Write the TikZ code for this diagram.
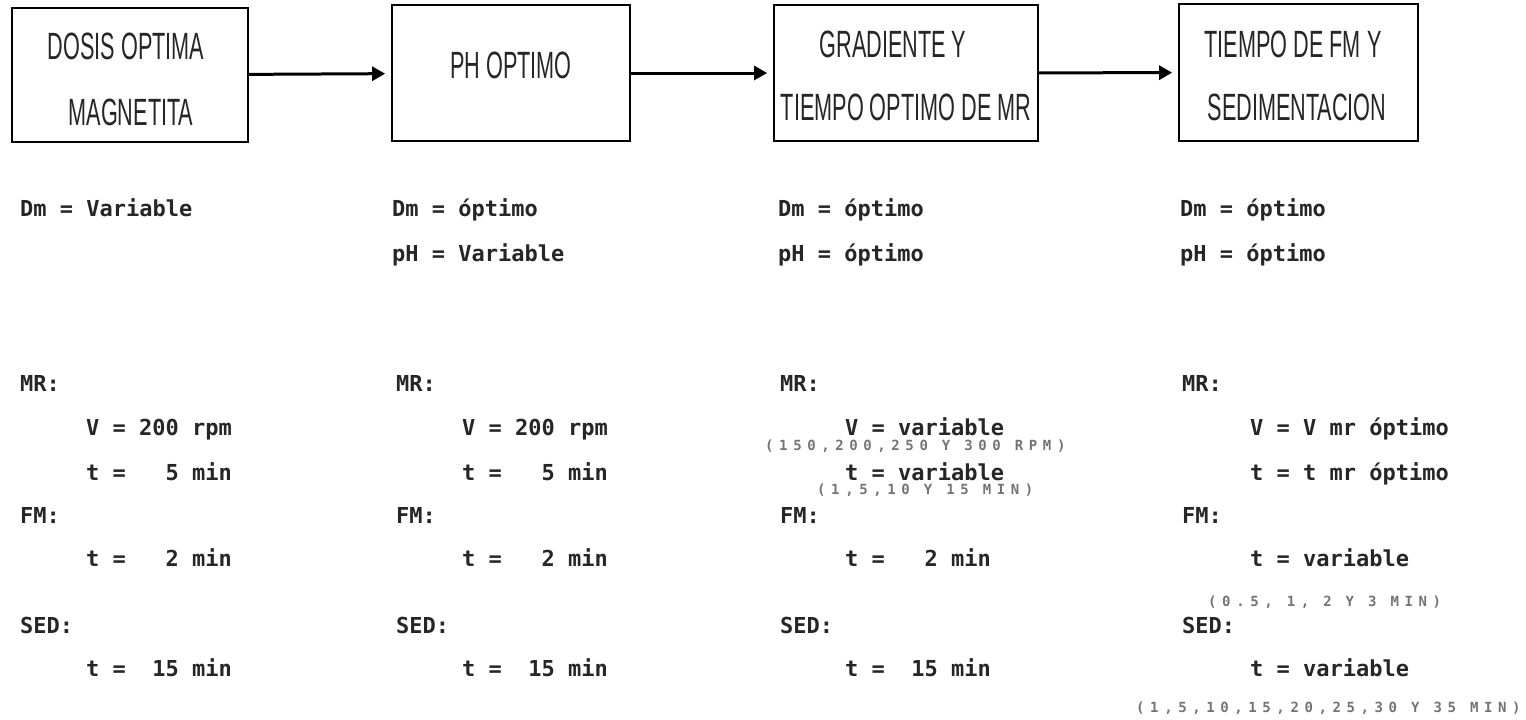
\documentclass[tikz,border=0pt]{standalone}
\usepackage{fontspec}
\usetikzlibrary{arrows.meta}
\newfontfamily\boxfont[FakeStretch=0.57]{Liberation Sans}
\newfontfamily\parfont{DejaVu Sans Mono}
\newfontfamily\notefont[LetterSpace=40]{DejaVu Sans Mono}
\begin{document}
\begin{tikzpicture}[x=1pt,y=-1pt,
  stagebox/.style={draw=black,line width=1.8pt,rectangle,inner sep=0pt},
  stagetext/.style={inner sep=0pt,text=black!85,
    font=\boxfont\fontsize{38}{38}\selectfont},
  flow/.style={line width=3pt,-{Triangle[length=13pt,width=14pt]},shorten >=6pt},
  param/.style={anchor=base west,inner sep=0pt,text=black!85,
    font=\parfont\bfseries\fontsize{22}{22}\selectfont},
  note/.style={anchor=base west,inner sep=0pt,text=black!55,
    font=\notefont\bfseries\fontsize{14}{14}\selectfont}]
\useasboundingbox (0,0) rectangle (1526,720);

% process stages
\node[stagebox,minimum width=236pt,minimum height=134pt] (s1) at (130,75) {};
\node[stagebox,minimum width=238pt,minimum height=136pt] (s2) at (511,73) {};
\node[stagebox,minimum width=264pt,minimum height=136pt] (s3) at (906,73) {};
\node[stagebox,minimum width=239pt,minimum height=137pt] (s4) at (1298.5,72.5) {};

% stage titles (cap height 27pt: base = centre + 13.5)
\node[stagetext,anchor=base] (s1a) at (126,59.5)  {DOSIS OPTIMA};
\node[stagetext,anchor=base] (s1b) at (131,125.5) {MAGNETITA};
\node[stagetext,anchor=base] (s2a) at (511,78.5)  {PH OPTIMO};
\node[stagetext,anchor=base] (s3a) at (893,57.5)  {GRADIENTE Y};
\node[stagetext,anchor=base] (s3b) at (906,120.5) {TIEMPO OPTIMO DE MR};
\node[stagetext,anchor=base] (s4a) at (1293,57.5) {TIEMPO DE FM Y};
\node[stagetext,anchor=base] (s4b) at (1297,120.5) {SEDIMENTACION};

\draw[flow] (s1) -- (s2);
\draw[flow] (s2) -- (s3);
\draw[flow] (s3) -- (s4);

% stage 1 conditions
\node[param] (a1) at (20,216) {Dm = Variable};
\node[param] (a3) at (20,391) {MR:};
\node[param] (a4) at (86,435) {V = 200 rpm};
\node[param] (a5) at (86,480) {t =\ \ \ 5 min};
\node[param] (a6) at (20,523) {FM:};
\node[param] (a7) at (86,566) {t =\ \ \ 2 min};
\node[param] (a8) at (20,633) {SED:};
\node[param] (a9) at (86,676) {t =\ \ 15 min};

% stage 2 conditions
\node[param] (b1) at (392,216) {Dm = óptimo};
\node[param] (b2) at (392,261) {pH = Variable};
\node[param] (b3) at (396,391) {MR:};
\node[param] (b4) at (462,435) {V = 200 rpm};
\node[param] (b5) at (462,480) {t =\ \ \ 5 min};
\node[param] (b6) at (396,523) {FM:};
\node[param] (b7) at (462,566) {t =\ \ \ 2 min};
\node[param] (b8) at (396,633) {SED:};
\node[param] (b9) at (462,676) {t =\ \ 15 min};

% stage 3 conditions
\node[param] (c1) at (778,216) {Dm = óptimo};
\node[param] (c2) at (778,261) {pH = óptimo};
\node[param] (c3) at (780,391) {MR:};
\node[param] (c4) at (845,435) {V = variable};
\node[note]  (c4n) at (765,450) {(150,200,250 Y 300 RPM)};
\node[param] (c5) at (845,480) {t = variable};
\node[note]  (c5n) at (817,494) {(1,5,10 Y 15 MIN)};
\node[param] (c6) at (780,523) {FM:};
\node[param] (c7) at (845,566) {t =\ \ \ 2 min};
\node[param] (c8) at (780,633) {SED:};
\node[param] (c9) at (845,676) {t =\ \ 15 min};

% stage 4 conditions
\node[param] (d1) at (1180,216) {Dm = óptimo};
\node[param] (d2) at (1180,261) {pH = óptimo};
\node[param] (d3) at (1182,391) {MR:};
\node[param] (d4) at (1250,435) {V = V mr óptimo};
\node[param] (d5) at (1250,480) {t = t mr óptimo};
\node[param] (d6) at (1182,523) {FM:};
\node[param] (d7) at (1250,566) {t = variable};
\node[note]  (d7n) at (1208,606) {(0.5, 1, 2 Y 3 MIN)};
\node[param] (d8) at (1182,633) {SED:};
\node[param] (d9) at (1250,676) {t = variable};
\node[note]  (d9n) at (1136,712) {(1,5,10,15,20,25,30 Y 35 MIN)};
\end{tikzpicture}
\end{document}
